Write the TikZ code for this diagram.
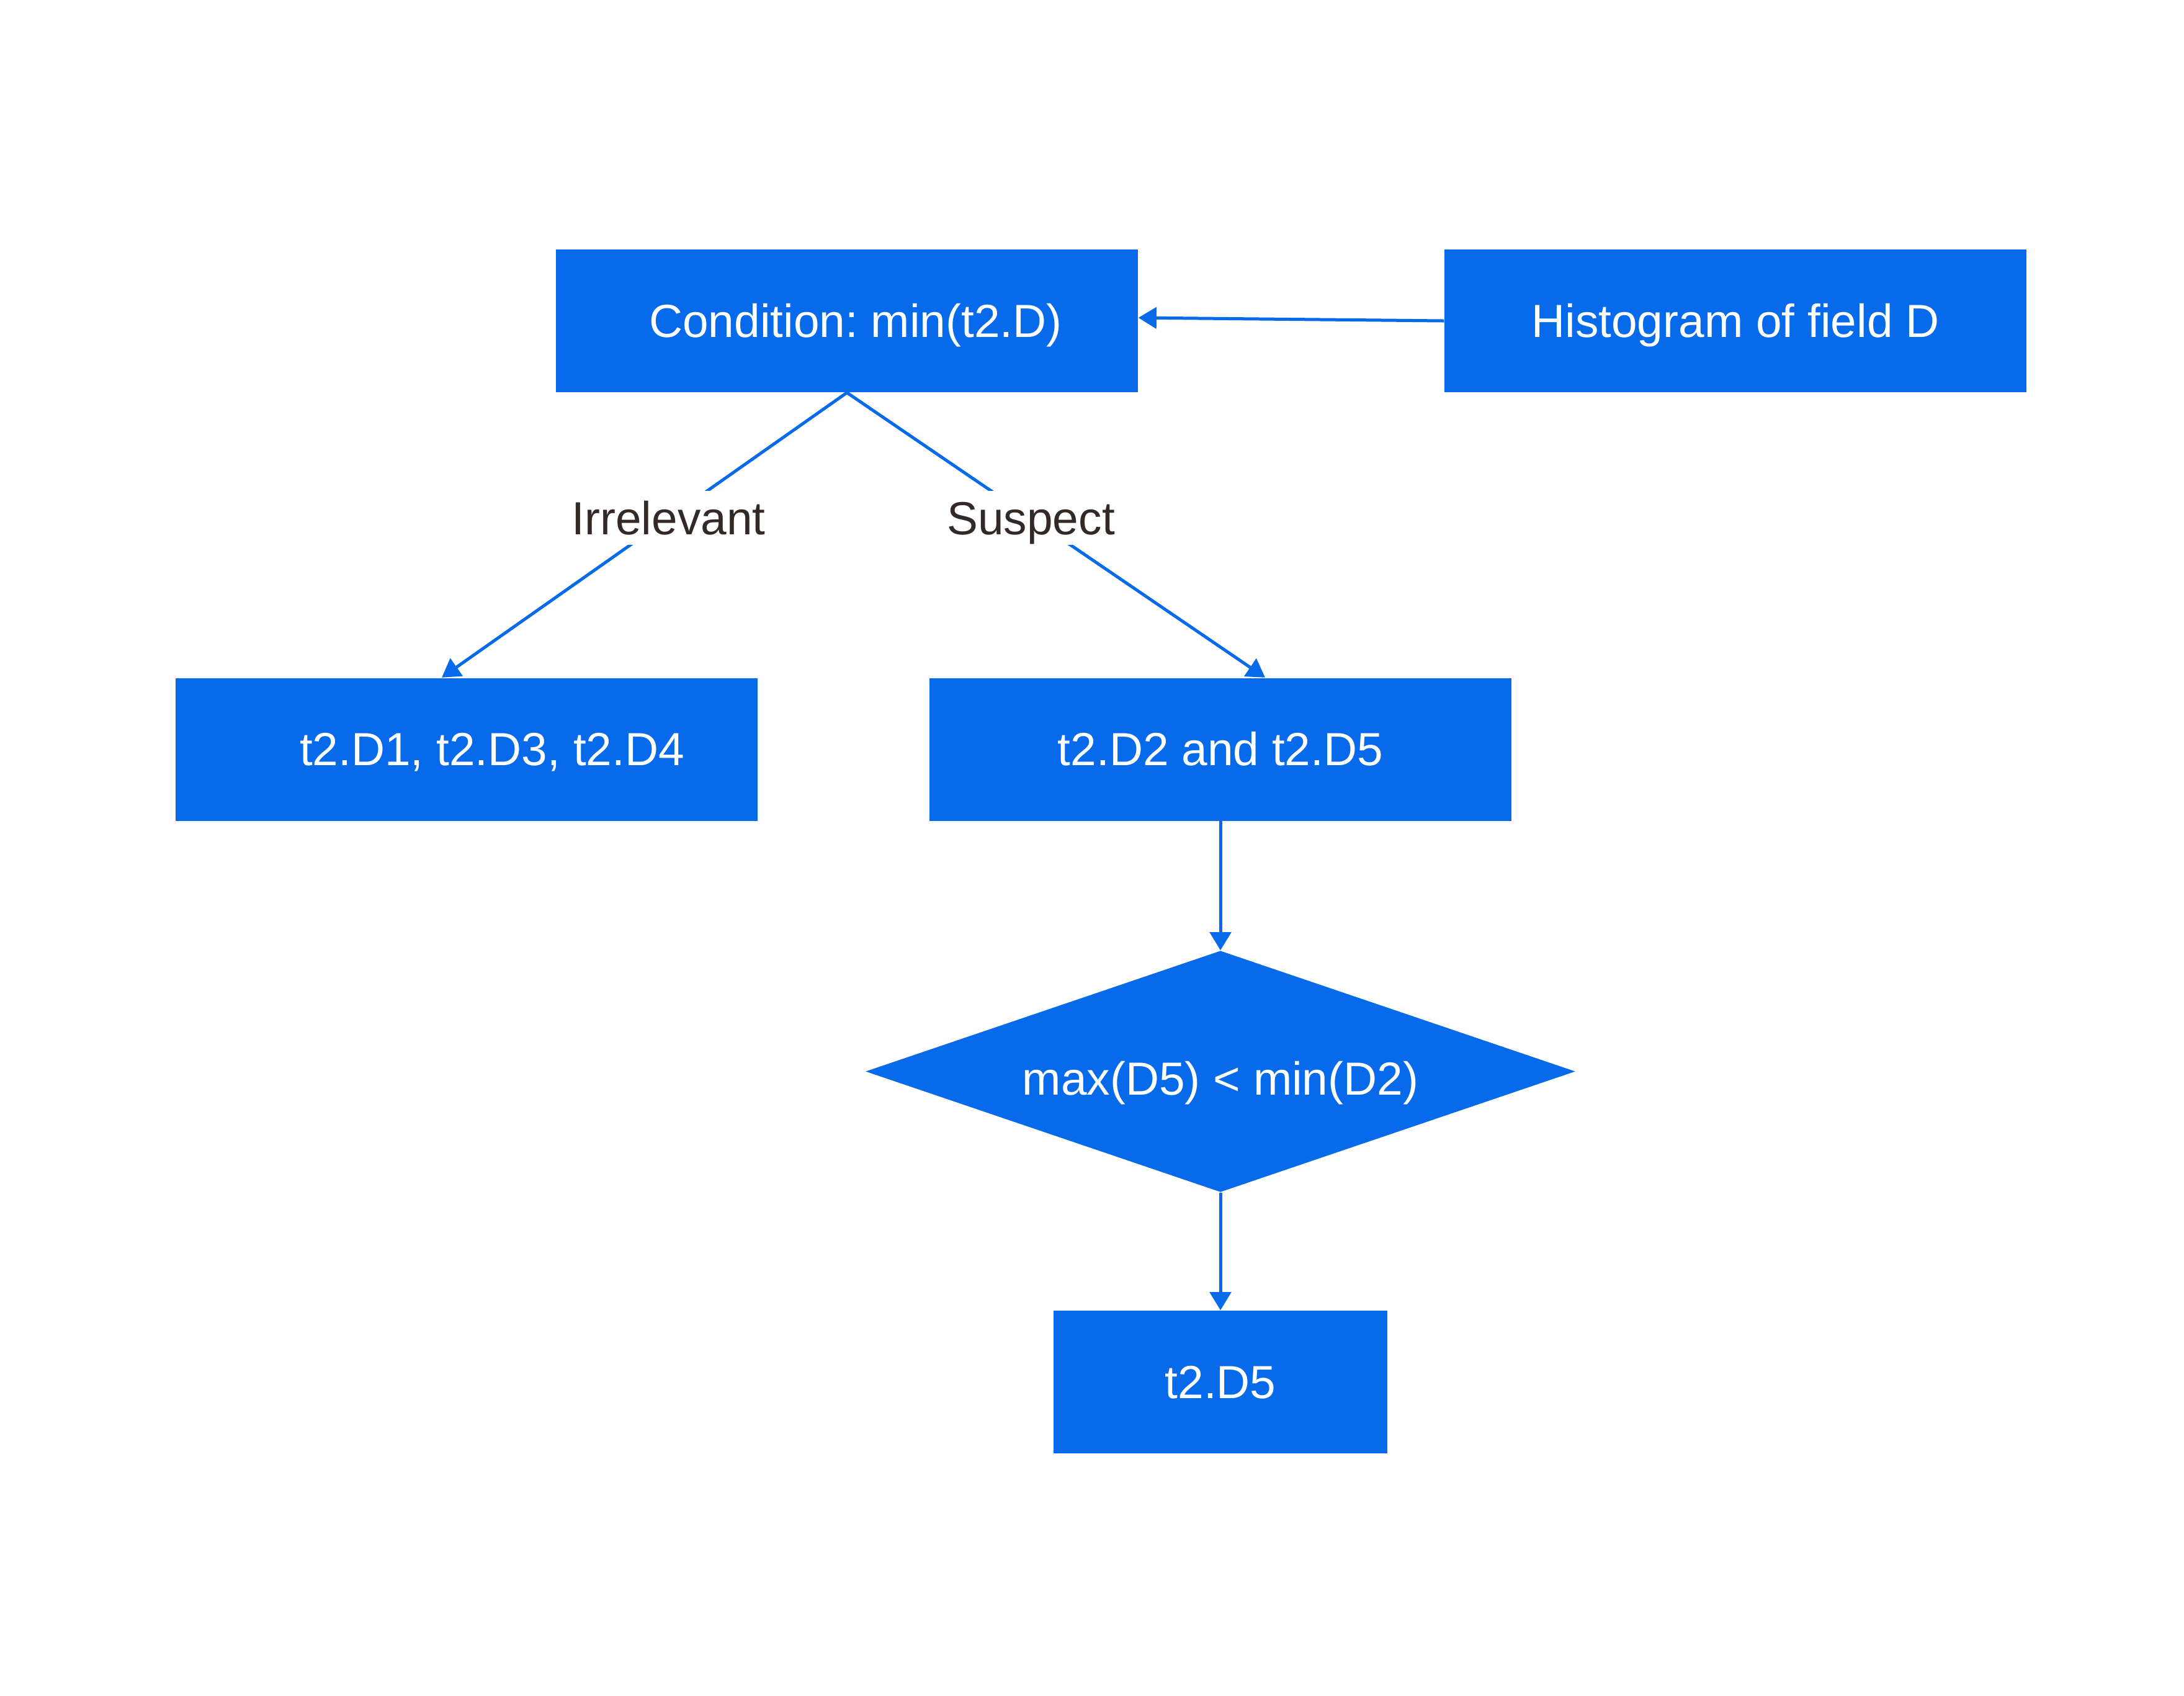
\documentclass[tikz,border=0pt]{standalone}
\usepackage{fontspec}
\setmainfont{Liberation Sans}
\frenchspacing
\usetikzlibrary{arrows.meta,shapes.geometric}
\definecolor{boxblue}{RGB}{6,106,235}
\definecolor{labeltext}{RGB}{51,42,40}
\tikzset{
  box/.style={rectangle, fill=boxblue, draw=none, text=white, inner sep=0pt,
    minimum width=9.38cm, minimum height=2.30cm, font=\fontsize{21.3}{25}\selectfont,
    text height=15pt, text depth=0pt},
  decision/.style={diamond, aspect=2.94, fill=boxblue, draw=none, text=white, inner sep=0pt,
    minimum width=11.44cm, minimum height=3.89cm, font=\fontsize{21.3}{25}\selectfont,
    text height=15pt, text depth=0pt},
  edgelabel/.style={fill=white, text=labeltext, inner xsep=0.2cm, inner ysep=0.17cm,
    font=\fontsize{21.3}{25}\selectfont, text height=15pt, text depth=0pt},
  conn/.style={draw=boxblue, line width=0.05cm, -{Triangle[length=8.3pt,width=9.7pt]}}
}
\begin{document}
\begin{tikzpicture}
\useasboundingbox (0,0) rectangle (35.2,-27.32);
\node[box] (cond) at (13.65,-5.17) {\hspace*{0.28cm}Condition: min(t2.D)};
\node[box] (hist) at (27.97,-5.17) {Histogram of field D};
\node[box] (irr) at (7.52,-12.075) {\hspace*{0.82cm}t2.D1, t2.D3, t2.D4};
\node[box] (sus) at (19.67,-12.075) {t2.D2 and t2.D5};
\node[decision] (dec) at (19.67,-17.265) {\raisebox{-0.12cm}{max(D5) < min(D2)}};
\node[box, minimum width=5.38cm] (res) at (19.67,-22.27) {t2.D5};

\draw[conn] (hist.west) -- ([yshift=0.05cm]cond.east);
\draw[conn] (cond.south) -- node[edgelabel, pos=0.44] (lirr) {Irrelevant} ([xshift=-0.40cm]irr.north);
\draw[conn] (cond.south) -- node[edgelabel, pos=0.44] (lsus) {Suspect} ([xshift=0.72cm]sus.north);
\draw[conn] (sus.south) -- (dec.north);
\draw[conn] (dec.south) -- (res.north);
\end{tikzpicture}
\end{document}
